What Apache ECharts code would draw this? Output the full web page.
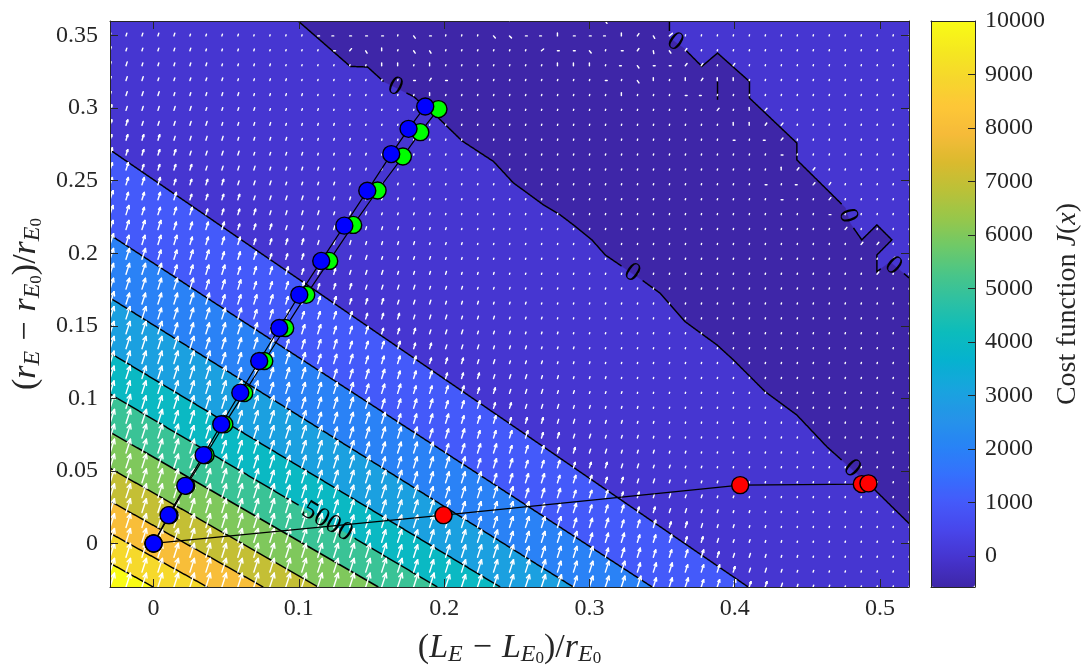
<!DOCTYPE html>
<html>
<head>
<meta charset="utf-8">
<title>Cost function landscape</title>
<script src="https://cdn.jsdelivr.net/npm/echarts@6.0.0/dist/echarts.min.js"></script>
<style>
  html, body { margin: 0; padding: 0; background: #ffffff; }
  #chart { width: 1083px; height: 670px; }
</style>
</head>
<body>
<div id="chart"></div>
<script>
const SERIF = '"Liberation Serif", "Times New Roman", serif';
const INK = '#262626';

// ---- axis ranges and ticks ----
const xLimits = [-0.03, 0.52];
const yLimits = [-0.03, 0.36];
const xTicks = [0, 0.1, 0.2, 0.3, 0.4, 0.5];
const yTicks = [0, 0.05, 0.1, 0.15, 0.2, 0.25, 0.3, 0.35];
const costLimits = [-577, 10000];
const costTicks = [0, 1000, 2000, 3000, 4000, 5000, 6000, 7000, 8000, 9000, 10000];

// ---- straight iso-cost lines of the lower-left corner ----
// each line enters at the left edge (y) and leaves through the bottom edge (x)
const isoLevels  = [1000, 2000, 3000, 4000, 5000, 6000, 7000, 8000, 9000, 10000];
const isoLeftY   = [0.2712, 0.2126, 0.1692, 0.1313, 0.1030, 0.0768, 0.0519, 0.0292, 0.0071, -0.0136];
const isoBottomX = [0.4093, 0.3432, 0.2889, 0.2386, 0.1953, 0.1547, 0.1134, 0.0755, 0.0370, -0.0002];

// ---- J = 0 contours ----
const zeroMain = [
  [0.0995, 0.3600], [0.1354, 0.3287], [0.1473, 0.3283], [0.1583, 0.3183], [0.1789, 0.3080],
  [0.1950, 0.2942], [0.2123, 0.2774], [0.2340, 0.2632], [0.2476, 0.2485], [0.2684, 0.2333],
  [0.2799, 0.2264], [0.2890, 0.2195], [0.3017, 0.2092], [0.3109, 0.1988], [0.3361, 0.1816],
  [0.3487, 0.1724], [0.3659, 0.1528], [0.3878, 0.1368], [0.3992, 0.1264], [0.4107, 0.1149],
  [0.4210, 0.1046], [0.4428, 0.0885], [0.4635, 0.0666], [0.4955, 0.0379], [0.5200, 0.0138]
];
const zeroUpper = [
  [0.3551, 0.3600], [0.3551, 0.3483], [0.3648, 0.3414], [0.3774, 0.3287], [0.3882, 0.3379],
  [0.4102, 0.3183], [0.4102, 0.3069], [0.4428, 0.2759], [0.4428, 0.2643], [0.4761, 0.2314],
  [0.4795, 0.2207], [0.4875, 0.2092], [0.4979, 0.2195], [0.5082, 0.2092], [0.4979, 0.1988],
  [0.4979, 0.1873], [0.5070, 0.1940], [0.5160, 0.1864], [0.5200, 0.1830]
];
const zeroIsland = [[0.3882, 0.3183], [0.3882, 0.3057]];

// ---- contour labels ----
const labelText = ['0', '0', '0', '0', '0', '0', '5000'];
const labelLine = ['zeroMain', 'zeroMain', 'zeroMain', 'zeroUpper', 'zeroUpper', 'zeroUpper', 'iso5000'];
const labelX = [0.1663, 0.3293, 0.4807, 0.3590, 0.4779, 0.5091, 0.1195];
const labelY = [0.3146, 0.1864, 0.0515, 0.3454, 0.2257, 0.1912, 0.0150];

// ---- optimisation paths ----
const blueX  = [0, 0.0103, 0.0218, 0.0344, 0.0466, 0.0597, 0.0727, 0.0865, 0.1003, 0.1154, 0.1313, 0.1471, 0.1636, 0.1755, 0.1870];
const blueY  = [0, 0.0195, 0.0397, 0.0609, 0.0821, 0.1039, 0.1257, 0.1485, 0.1713, 0.1947, 0.2190, 0.2430, 0.2683, 0.2857, 0.3011];
const greenX = [0, 0.0110, 0.0225, 0.0358, 0.0487, 0.0624, 0.0762, 0.0906, 0.1051, 0.1209, 0.1374, 0.1542, 0.1716, 0.1836, 0.1961];
const greenY = [0, 0.0195, 0.0397, 0.0609, 0.0821, 0.1036, 0.1257, 0.1485, 0.1713, 0.1947, 0.2195, 0.2432, 0.2666, 0.2834, 0.2993];
const redX   = [0, 0.1996, 0.4038, 0.4875, 0.4921];
const redY   = [0, 0.0195, 0.0402, 0.0409, 0.0414];

// ---- descent-direction field on a 51 x 39 grid (top row first) ----
// one digit per grid point = arrow magnitude; points past the end of a row are 0
const quiverAngle = 72;
const quiverRows = [
  '22221111',
  '222221111',
  '3222221111',
  '33222221111',
  '333222221111',
  '3333222221111',
  '43333322221111',
  '443333322221111',
  '4444333322221111',
  '54444333322221111',
  '554444333322221111',
  '5555444433322221111',
  '65555444433332221111',
  '665555444433332221111',
  '6666555544433332222111',
  '76666555544443332222111',
  '777666655544443332222111',
  '7777666655554443332222111',
  '77777766655554443333222111',
  '877777766665555444333222111',
  '8887777776665555444333222111',
  '88887777776666555444333222111',
  '888888777776666555544333222111',
  '8888888777777666555544433222111',
  '88888888777777666655544433322111',
  '888888888877777766655554433322111',
  '9988888888877777766665554433322111',
  '99998888888887777766665554443322211',
  '999998888888887777776665555443322211',
  '9999999888888888777776666555443322211',
  '99999999888888888777777666555444332211',
  '999999999988888888877777666655544332211',
  '9999999999988888888877777766655544332211',
  '99999999999998888888887777766655544332211',
  '999999999999999888888887777776665554432211',
  '9999999999999999888888888777776665554432211',
  '99999999999999999988888888777776665555433211',
  '999999999999999999988888888877777666555433211',
  '9999999999999999999998888888877777666555443211'
];
// scattered arrows in the flat valley: [column, row, magnitude, direction in degrees]
const quiverNoise = [
  [13,0,1,180],[14,0,1,0],[15,0,1,180],[16,0,2,55],[17,0,1,0],[18,0,1,0],[19,0,2,50],[20,0,1,0],
  [21,0,1,180],[22,0,1,0],[24,0,2,50],[26,0,2,45],[28,0,2,50],[29,0,1,0],[30,0,1,180],[31,0,2,-55],
  [32,0,1,0],[33,0,2,20],[34,0,3,30],[35,0,2,0],
  [13,1,1,0],[14,1,1,180],[15,1,1,0],[16,1,1,0],[17,1,1,0],[19,1,2,-55],[20,1,1,0],[24,1,2,-50],
  [25,1,2,-45],[26,1,1,0],[27,1,1,180],[28,1,2,90],[29,1,1,0],[30,1,1,0],[31,1,1,180],[32,1,2,90],
  [33,1,2,55],[34,1,2,-60],[35,1,3,40],
  [14,2,1,0],[15,2,2,50],[16,2,2,-60],[17,2,2,90],[19,2,2,-55],[20,2,2,-60],[27,2,2,40],
  [28,2,1,0],[29,2,1,0],[30,2,2,-50],[32,2,1,0],[33,2,2,55],[34,2,2,-80],[35,2,2,-55],[36,2,2,55],
  [17,3,2,90],[18,3,2,90],[20,3,2,90],[28,3,2,90],[29,3,2,90],[30,3,2,90],[32,3,1,180],
  [33,3,2,-55],[34,3,1,0],[35,3,1,0],[36,3,2,50],[37,3,2,55],[39,3,2,55],
  [19,4,1,0],[20,4,2,55],[21,4,1,0],[31,4,1,0],[33,4,2,-55],[34,4,2,90],[36,4,2,90],[37,4,2,55],
  [38,4,2,90],[39,4,2,90],
  [20,5,2,90],[32,5,2,90],[36,5,1,0],[37,5,1,180],
  [38,6,2,50],[40,6,2,90],[41,6,2,50],
  [39,7,2,90],[40,7,2,90],[41,7,2,55],[42,7,2,50],
  [39,8,1,0],[41,8,1,180],[42,8,2,50],
  [42,9,1,0],
  [42,10,2,90],[43,10,2,50],[44,10,2,50],
  [41,11,1,0],[43,11,1,180],[44,11,2,50],[45,11,2,55],
  [42,12,1,0],[45,12,2,50],
  [45,13,1,0],[46,14,2,50],[47,15,2,50],[48,15,2,50],[49,16,2,50],[48,17,2,50]
];

// parula colour map
const parula = [
  '#3E26A8', '#4634CE', '#4846EB', '#445AFA', '#3471FD', '#2884F5', '#2594E8', '#18A4DE',
  '#06B2CF', '#0CBCBC', '#2AC0A5', '#48C58A', '#6DC969', '#96C74B', '#BAC138', '#DABA2E',
  '#F6BB39', '#FDC737', '#F6D72C', '#F5E91F', '#F9FB15'
];

// ---------------------------------------------------------------------------
const quiverCols = 51;
// drawn arrow length (px) for each magnitude step
const arrowPx = [1.1, 1.8, 2.8, 4.0, 5.6, 7.6, 9.5, 11.3, 12.9, 14.4];

const contours = [
  { id: 'zeroMain', pts: zeroMain },
  { id: 'zeroUpper', pts: zeroUpper },
  { id: 'zeroIsland', pts: zeroIsland }
].concat(isoLevels.map((lv, i) => ({
  id: 'iso' + lv,
  pts: [[xLimits[0], isoLeftY[i]], [isoBottomX[i], yLimits[0]]]
})));
const contourIndex = {};
contours.forEach((c, i) => { contourIndex[c.id] = i; });

// filled bands: each region gets the colour of its lower level
const bands = [
  { level: 0, pts: [[xLimits[0], yLimits[0]], [xLimits[1], yLimits[0]], [xLimits[1], yLimits[1]], [xLimits[0], yLimits[1]]] },
  { level: costLimits[0], pts: zeroMain.concat(zeroUpper.slice().reverse()) }
].concat(isoLevels.map((lv, i) => ({
  level: lv,
  pts: [[xLimits[0], isoLeftY[i]], [isoBottomX[i], yLimits[0]], [xLimits[0], yLimits[0]]]
})));

const quiverData = [];
quiverRows.forEach((row, k) => {
  const y = yLimits[1] - k * (yLimits[1] - yLimits[0]) / (quiverRows.length - 1);
  for (let i = 0; i < quiverCols; i++) {
    const x = xLimits[0] + i * (xLimits[1] - xLimits[0]) / (quiverCols - 1);
    quiverData.push([x, y, Number(row.charAt(i) || 0), quiverAngle]);
  }
});
quiverNoise.forEach(([i, k, m, a]) => {
  const d = quiverData[k * quiverCols + i];
  d[2] = m; d[3] = a;
});

const zip = (xs, ys) => xs.map((x, i) => [x, ys[i]]);

function splitAround(px, holes) {
  const runs = [];
  let cur = [];
  const inside = (x, y) => holes.some(h => (x - h.x) * (x - h.x) + (y - h.y) * (y - h.y) < h.r * h.r);
  for (let s = 0; s < px.length - 1; s++) {
    const [x1, y1] = px[s], [x2, y2] = px[s + 1];
    const n = Math.max(1, Math.ceil(Math.hypot(x2 - x1, y2 - y1)));
    for (let j = (s === 0 ? 0 : 1); j <= n; j++) {
      const t = j / n, x = x1 + (x2 - x1) * t, y = y1 + (y2 - y1) * t;
      if (inside(x, y)) { if (cur.length > 1) runs.push(cur); cur = []; }
      else cur.push([x, y]);
    }
  }
  if (cur.length > 1) runs.push(cur);
  return runs;
}

function mathRich(size) {
  return {
    t: { fontFamily: SERIF, fontSize: size, color: INK, lineHeight: 38, verticalAlign: 'middle' },
    i: { fontFamily: SERIF, fontSize: size, fontStyle: 'italic', color: INK, lineHeight: 38, verticalAlign: 'middle' },
    m: { fontFamily: SERIF, fontSize: size, color: INK, lineHeight: 38, verticalAlign: 'middle', padding: [0, 10, 0, 10] },
    s: { fontFamily: SERIF, fontSize: Math.round(size * 0.7), fontStyle: 'italic', color: INK, lineHeight: 24, verticalAlign: 'bottom' },
    z: { fontFamily: SERIF, fontSize: Math.round(size * 0.5), color: INK, lineHeight: 13, verticalAlign: 'bottom' }
  };
}

const tickLabel = { color: INK, fontFamily: SERIF, fontSize: 24, formatter: v => String(v) };
const frameLine = { show: true, onZero: false, lineStyle: { color: INK, width: 1 } };

function frameAxis(extra) {
  return Object.assign({
    type: 'value', z: 10, axisLine: frameLine, splitLine: { show: false },
    axisTick: { show: false }, axisLabel: { show: false }
  }, extra);
}

function pathSeries(name, data, color, z) {
  return {
    name, type: 'line', xAxisIndex: 0, yAxisIndex: 0, data, z, silent: true,
    symbol: 'circle', symbolSize: 17, showSymbol: true, showAllSymbol: true,
    itemStyle: { color, borderColor: '#000000', borderWidth: 1.4 },
    lineStyle: { color: '#000000', width: 1.2 },
    emphasis: { disabled: true }
  };
}

const chart = echarts.init(document.getElementById('chart'), null, { renderer: 'canvas' });

chart.setOption({
  animation: false,
  backgroundColor: '#ffffff',
  grid: [
    { left: 110, top: 21, width: 799, height: 566, outerBoundsMode: 'none', containLabel: false },
    { left: 931, top: 21, width: 44, height: 566, outerBoundsMode: 'none', containLabel: false }
  ],
  xAxis: [
    frameAxis({
      gridIndex: 0, position: 'bottom', min: xLimits[0], max: xLimits[1],
      axisTick: { show: true, inside: true, length: 8, customValues: xTicks, lineStyle: { color: INK } },
      axisLabel: Object.assign({ customValues: xTicks, margin: 10 }, tickLabel),
      name: '{t|(}{i|L}{s|E}{m|−}{i|L}{s|E}{z|0}{t|)/}{i|r}{s|E}{z|0}',
      nameLocation: 'middle', nameGap: 42, nameTextStyle: { rich: mathRich(34) }
    }),
    frameAxis({
      gridIndex: 0, position: 'top', min: xLimits[0], max: xLimits[1],
      axisTick: { show: true, inside: true, length: 8, customValues: xTicks, lineStyle: { color: INK } }
    }),
    frameAxis({ gridIndex: 1, position: 'bottom', min: 0, max: 1 }),
    frameAxis({ gridIndex: 1, position: 'top', min: 0, max: 1 })
  ],
  yAxis: [
    frameAxis({
      gridIndex: 0, position: 'left', min: yLimits[0], max: yLimits[1],
      axisTick: { show: true, inside: true, length: 8, customValues: yTicks, lineStyle: { color: INK } },
      axisLabel: Object.assign({ customValues: yTicks, margin: 12 }, tickLabel),
      name: '{t|(}{i|r}{s|E}{m|−}{i|r}{s|E}{z|0}{t|)/}{i|r}{s|E}{z|0}',
      nameLocation: 'middle', nameRotate: 90, nameGap: 64, nameTextStyle: { rich: mathRich(34) }
    }),
    frameAxis({
      gridIndex: 0, position: 'right', min: yLimits[0], max: yLimits[1],
      axisTick: { show: true, inside: true, length: 8, customValues: yTicks, lineStyle: { color: INK } }
    }),
    frameAxis({ gridIndex: 1, position: 'left', min: costLimits[0], max: costLimits[1] }),
    frameAxis({
      gridIndex: 1, position: 'right', min: costLimits[0], max: costLimits[1],
      axisTick: { show: true, inside: true, length: 7, customValues: costTicks, lineStyle: { color: INK } },
      axisLabel: Object.assign({ customValues: costTicks, margin: 10 }, tickLabel),
      name: '{t|Cost function }{i|J}{t|(}{i|x}{t|)}',
      nameLocation: 'middle', nameRotate: 90, nameGap: 74, nameTextStyle: { rich: mathRich(28) }
    })
  ],
  visualMap: {
    type: 'continuous', seriesIndex: 0, dimension: 2,
    min: costLimits[0], max: costLimits[1],
    calculable: false, hoverLink: false, show: true, orient: 'vertical',
    left: 931, top: 21, itemWidth: 44, itemHeight: 566, padding: 0, text: null,
    inRange: { color: parula }
  },
  series: [
    {
      // filled contour bands
      type: 'custom', coordinateSystem: 'cartesian2d', xAxisIndex: 0, yAxisIndex: 0,
      silent: true, clip: true, z: 1,
      data: bands.map((b, i) => [b.pts[0][0], b.pts[0][1], b.level, i]),
      renderItem(params, api) {
        const b = bands[api.value(3)];
        const c = api.visual('color');
        return { type: 'polygon', shape: { points: b.pts.map(p => api.coord(p)) }, style: { fill: c, stroke: c, lineWidth: 0.4 } };
      }
    },
    {
      // contour lines, opened where a label sits
      type: 'custom', coordinateSystem: 'cartesian2d', xAxisIndex: 0, yAxisIndex: 0,
      silent: true, clip: true, z: 2,
      data: contours.map((c, i) => [c.pts[0][0], c.pts[0][1], i]),
      renderItem(params, api) {
        const c = contours[api.value(2)];
        const px = c.pts.map(p => api.coord(p));
        const holes = [];
        labelText.forEach((t, i) => {
          if (labelLine[i] === c.id) {
            const q = api.coord([labelX[i], labelY[i]]);
            holes.push({ x: q[0], y: q[1], r: t.length * 6.5 + 6 });
          }
        });
        return {
          type: 'group',
          children: splitAround(px, holes).map(r => ({
            type: 'polyline', shape: { points: r },
            style: { stroke: '#000000', lineWidth: 1.45, fill: 'none' }
          }))
        };
      }
    },
    {
      // quiver arrows
      type: 'custom', coordinateSystem: 'cartesian2d', xAxisIndex: 0, yAxisIndex: 0,
      silent: true, clip: true, z: 3,
      data: quiverData,
      renderItem(params, api) {
        const p = api.coord([api.value(0), api.value(1)]);
        const m = api.value(2);
        const a = api.value(3) * Math.PI / 180;
        const len = arrowPx[Math.round(m)];
        const ex = p[0] + len * Math.cos(a), ey = p[1] - len * Math.sin(a);
        const st = () => ({ stroke: '#ffffff', lineWidth: 1.45, lineCap: 'round' });
        const kids = [{ type: 'line', shape: { x1: p[0], y1: p[1], x2: ex, y2: ey }, style: st() }];
        if (len >= 5) {
          const h = len * 0.33;
          [0.45, -0.45].forEach(d => {
            kids.push({ type: 'line', shape: { x1: ex, y1: ey, x2: ex - h * Math.cos(a + d), y2: ey + h * Math.sin(a + d) }, style: st() });
          });
        }
        return { type: 'group', children: kids };
      }
    },
    {
      // contour labels, turned along their line
      type: 'custom', coordinateSystem: 'cartesian2d', xAxisIndex: 0, yAxisIndex: 0,
      silent: true, clip: false, z: 4,
      data: labelText.map((t, i) => [labelX[i], labelY[i], i]),
      renderItem(params, api) {
        const i = api.value(2);
        const c = contours[contourIndex[labelLine[i]]];
        const q = api.coord([labelX[i], labelY[i]]);
        const px = c.pts.map(p => api.coord(p));
        let best = Infinity, ang = 0;
        for (let s = 0; s < px.length - 1; s++) {
          const [x1, y1] = px[s], [x2, y2] = px[s + 1];
          const dx = x2 - x1, dy = y2 - y1, L2 = dx * dx + dy * dy || 1;
          const t = Math.max(0, Math.min(1, ((q[0] - x1) * dx + (q[1] - y1) * dy) / L2));
          const d = Math.hypot(x1 + t * dx - q[0], y1 + t * dy - q[1]);
          if (d < best) { best = d; ang = Math.atan2(dy, dx); }
        }
        if (ang > Math.PI / 2) ang -= Math.PI;
        if (ang < -Math.PI / 2) ang += Math.PI;
        return {
          type: 'text', x: q[0], y: q[1], rotation: -ang,
          style: { text: labelText[i], fill: '#000000', fontSize: 27, fontFamily: SERIF, align: 'center', verticalAlign: 'middle' }
        };
      }
    },
    pathSeries('red path', zip(redX, redY), '#ff0000', 5),
    pathSeries('green path', zip(greenX, greenY), '#00ff00', 6),
    pathSeries('blue path', zip(blueX, blueY), '#0000ff', 7)
  ]
});
</script>
</body>
</html>
